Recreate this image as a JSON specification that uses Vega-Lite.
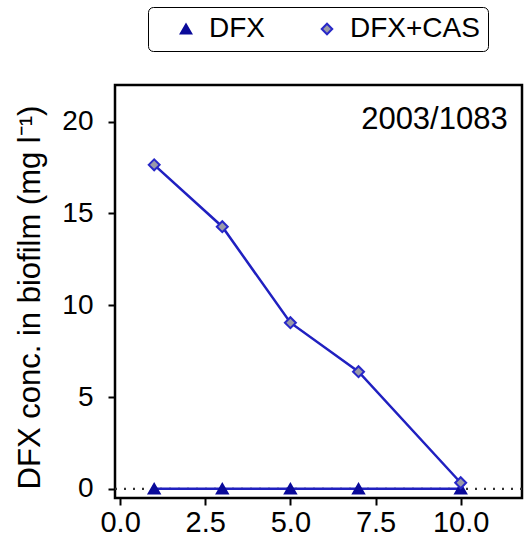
{
  "$schema": "https://vega.github.io/schema/vega-lite/v6.json",
  "width": 407,
  "height": 413,
  "autosize": {"type": "none"},
  "padding": {"left": 115, "top": 85, "right": 8, "bottom": 44},
  "background": "white",
  "config": {
    "view": {"stroke": "black", "strokeWidth": 2.5},
    "font": "Liberation Sans",
    "axis": {"domain": false, "grid": false, "tickColor": "black", "tickWidth": 2, "tickSize": 7, "labelFontSize": 28, "labelColor": "black", "titleFontSize": 31, "titleFontWeight": "normal", "titleColor": "black"}
  },
  "datasets": {
    "series": [
      {"day": 1, "conc": 0, "treatment": "DFX"},
      {"day": 3, "conc": 0, "treatment": "DFX"},
      {"day": 5, "conc": 0, "treatment": "DFX"},
      {"day": 7, "conc": 0, "treatment": "DFX"},
      {"day": 10, "conc": 0, "treatment": "DFX"},
      {"day": 1, "conc": 17.65, "treatment": "DFX+CAS"},
      {"day": 3, "conc": 14.28, "treatment": "DFX+CAS"},
      {"day": 5, "conc": 9.05, "treatment": "DFX+CAS"},
      {"day": 7, "conc": 6.38, "treatment": "DFX+CAS"},
      {"day": 10, "conc": 0.33, "treatment": "DFX+CAS"}
    ]
  },
  "layer": [
    {
      "data": {"values": [{"y": 0}]},
      "mark": {"type": "rule", "color": "#333333", "strokeWidth": 2.2, "strokeDash": [2, 7]},
      "encoding": {"y": {"field": "y", "type": "quantitative", "scale": {"domain": [-0.5, 22]}}}
    },
    {
      "data": {"name": "series"},
      "mark": {"type": "line", "color": "#2020c0", "strokeWidth": 2.5},
      "encoding": {
        "x": {"field": "day", "type": "quantitative"},
        "y": {"field": "conc", "type": "quantitative"},
        "detail": {"field": "treatment"}
      }
    },
    {
      "data": {"name": "series"},
      "mark": {"type": "point", "filled": true, "strokeWidth": 2, "opacity": 1},
      "encoding": {
        "x": {"field": "day", "type": "quantitative", "scale": {"domain": [-0.15, 11.8], "nice": false, "zero": false},
          "axis": {"values": [0, 2.5, 5, 7.5, 10], "format": ".1f", "title": null, "labelPadding": 3, "labelFontSize": 29}},
        "y": {"field": "conc", "type": "quantitative", "scale": {"domain": [-0.5, 22], "nice": false, "zero": false},
          "axis": {"values": [0, 5, 10, 15, 20], "title": "DFX conc. in biofilm (mg l⁻¹)", "titlePadding": 15, "labelPadding": 15, "titleY": 212}},
        "shape": {"field": "treatment", "type": "nominal", "scale": {"domain": ["DFX", "DFX+CAS"], "range": ["triangle-up", "diamond"]},
          "legend": {
            "title": null, "orient": "none", "legendX": 33, "legendY": -78, "direction": "horizontal", "columns": 2,
            "strokeColor": "black", "cornerRadius": 5, "fillColor": "white",
            "padding": 8, "labelFontSize": 28, "labelColor": "black", "symbolSize": 110, "symbolStrokeWidth": 2,
            "columnPadding": 32, "labelOffset": 9, "symbolOffset": 16, "symbolOpacity": 1,
            "encode": {
              "legend": {"update": {"strokeWidth": {"value": 2.5}}}
            }
          }},
        "fill": {"field": "treatment", "type": "nominal", "scale": {"domain": ["DFX", "DFX+CAS"], "range": ["#0a0a9a", "#9a9aa8"]}},
        "stroke": {"field": "treatment", "type": "nominal", "scale": {"domain": ["DFX", "DFX+CAS"], "range": ["#0a0a9a", "#2828c8"]}},
        "size": {"value": 120}
      }
    },
    {
      "data": {"values": [{"x": 11.38, "y": 20.1, "label": "2003/1083"}]},
      "mark": {"type": "text", "align": "right", "baseline": "middle", "fontSize": 31, "color": "black"},
      "encoding": {
        "x": {"field": "x", "type": "quantitative"},
        "y": {"field": "y", "type": "quantitative"},
        "text": {"field": "label"}
      }
    }
  ]
}
